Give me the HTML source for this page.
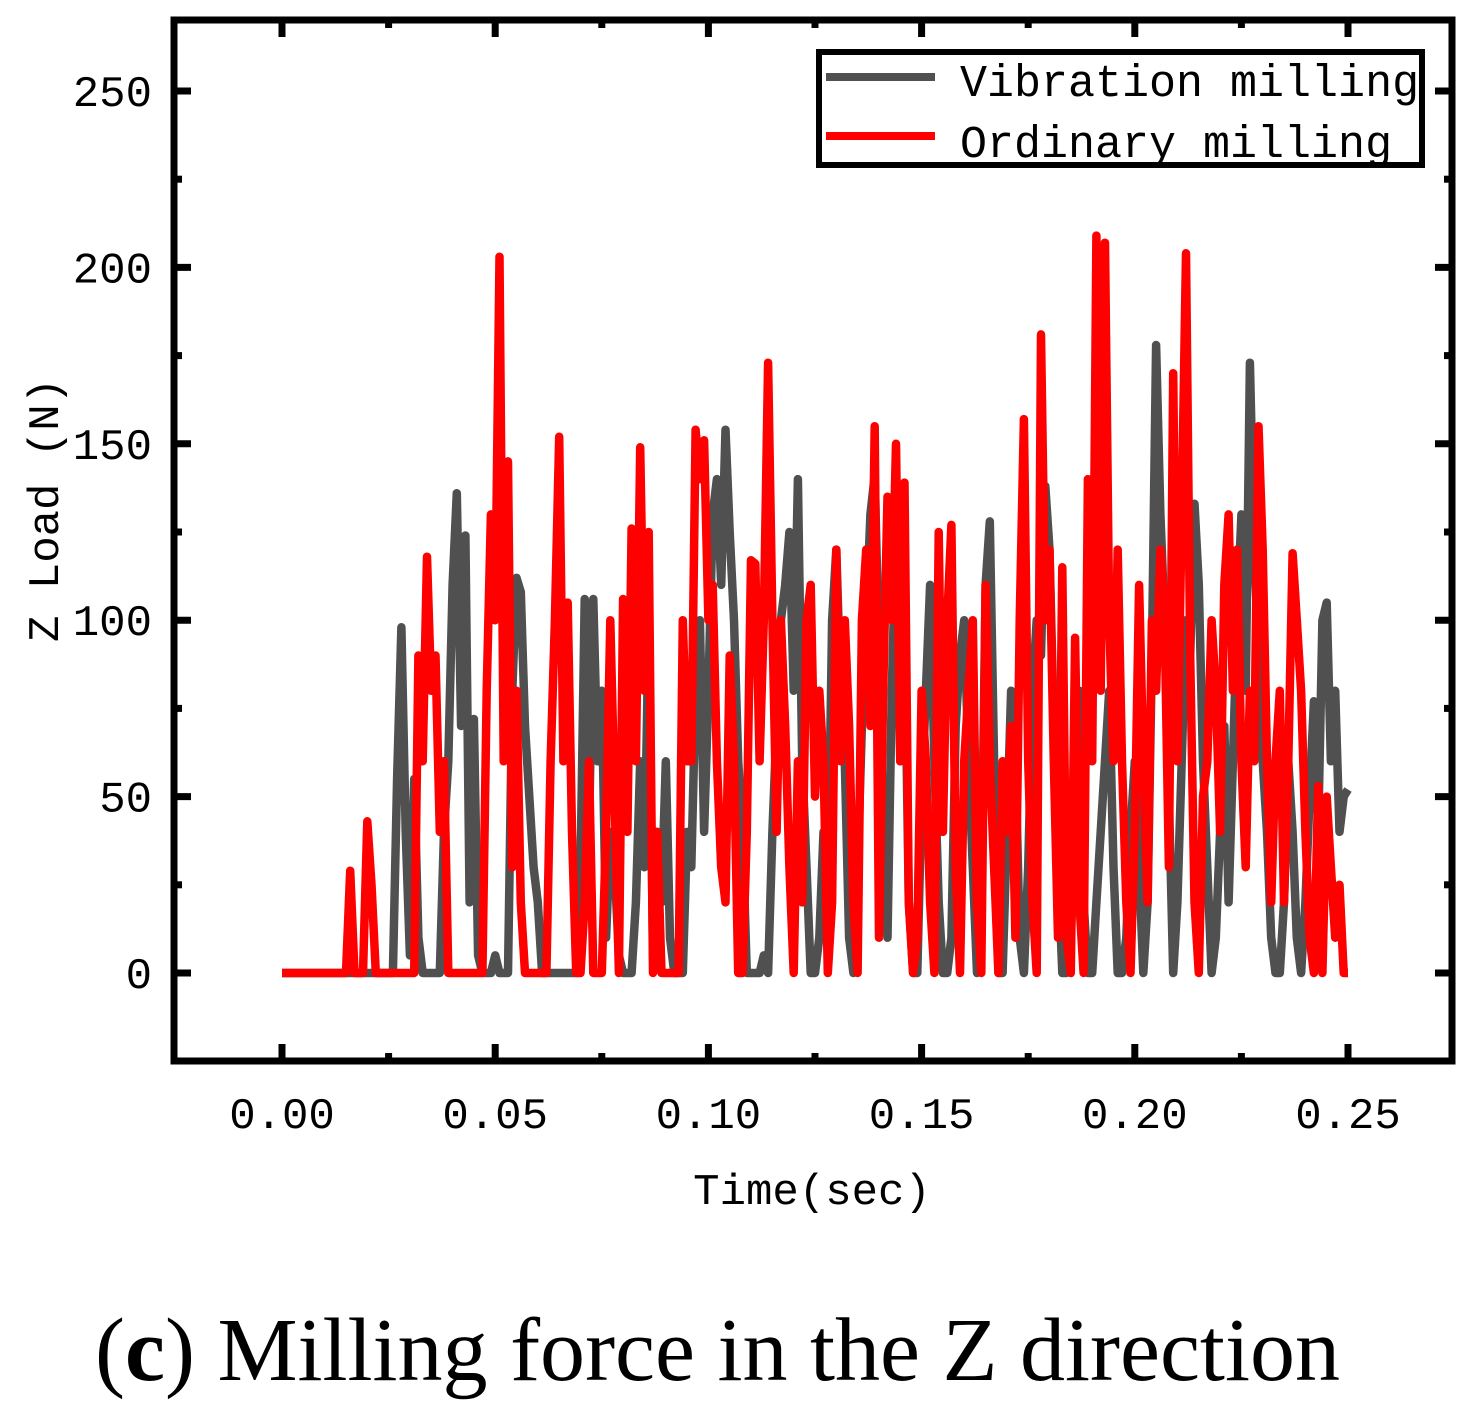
<!DOCTYPE html>
<html><head><meta charset="utf-8"><style>
html,body{margin:0;padding:0;background:#fff;}
svg{display:block;}
.mono{font-family:"Liberation Mono","Noto Sans CJK SC",monospace;}
</style></head><body>
<svg id="chart" width="1480" height="1419" viewBox="0 0 1480 1419" xmlns="http://www.w3.org/2000/svg">
<g id="plot"></g>
<g id="axes"></g>
<g>
<rect x="819" y="52" width="603" height="113" fill="#fff" stroke="#000" stroke-width="6"/>
<line x1="826" y1="77" x2="935" y2="77" stroke="#505050" stroke-width="8"/>
<text class="mono" x="960" y="96" font-size="45">Vibration milling</text>
<line x1="826" y1="136" x2="935" y2="136" stroke="#ff0000" stroke-width="8"/>
<text class="mono" x="960" y="157" font-size="45">Ordinary milling</text>
</g>
<text class="mono" x="812" y="1204" font-size="44" text-anchor="middle">Time(sec)</text>
<text class="mono" transform="translate(58,510) rotate(-90)" font-size="44" text-anchor="middle">Z Load (N)</text>
<text x="95" y="1380" font-family="Liberation Serif, serif" font-size="90" textLength="1245" lengthAdjust="spacingAndGlyphs">(<tspan font-weight="bold">c</tspan>) Milling force in the Z direction</text>
</svg>
<script>
const tStep = 0.001;
const vibration = [
0,0,0,0,0,0,0,0,0,0,
0,0,0,0,0,0,0,0,0,0,
0,0,0,0,0,0,0,55,98,40,
5,55,10,0,0,0,0,0,40,60,
110,136,70,124,20,72,5,0,0,0,
5,0,0,0,80,112,108,70,50,30,
20,0,0,0,0,0,0,0,0,0,
30,106,40,106,60,80,10,40,30,5,
0,0,0,20,60,30,100,5,40,20,
60,10,0,0,0,40,30,80,100,40,
80,130,140,110,154,125,100,60,40,0,
0,0,0,5,0,40,70,100,110,125,
80,140,60,30,0,0,10,40,20,100,
120,80,60,10,0,30,70,100,130,141,
90,40,10,80,125,60,100,20,0,0,
50,80,110,60,20,0,0,10,70,90,
100,60,30,0,20,110,128,60,0,0,
40,80,60,10,0,30,80,100,90,138,
120,70,30,0,0,10,40,80,20,0,
0,20,40,60,80,30,0,0,10,40,
60,30,0,20,90,178,130,100,50,0,
20,60,100,90,133,110,60,30,0,10,
40,70,20,60,100,130,80,173,120,90,
60,40,10,0,0,20,60,40,10,0,
20,50,77,40,100,105,60,80,40,50,
52];
const ordinary = [
0,0,0,0,0,0,0,0,0,0,
0,0,0,0,0,0,29,0,0,0,
43,25,0,0,0,0,0,0,0,0,
0,0,90,60,118,80,90,40,60,0,
0,0,0,0,0,0,0,0,80,130,
100,203,60,145,30,80,20,0,0,0,
0,0,0,60,100,152,60,105,40,0,
0,20,60,0,0,0,40,100,50,0,
106,40,126,60,149,80,125,0,40,0,
0,0,0,0,100,60,60,154,140,151,
100,110,60,30,20,90,60,0,0,40,
117,116,60,100,173,100,40,100,70,30,
0,60,20,100,110,50,80,60,0,20,
120,60,100,70,20,0,100,120,70,155,
10,80,135,100,150,60,139,20,0,10,
80,60,20,0,125,40,100,127,30,0,
60,80,100,20,0,110,60,30,0,60,
40,70,10,100,157,60,20,0,181,100,
120,60,10,115,10,0,95,20,0,140,
60,209,80,207,100,60,120,60,20,0,
40,110,60,20,100,80,120,100,30,170,
60,130,204,90,20,0,50,60,100,80,
40,110,130,80,120,60,30,80,60,155,
120,60,20,60,80,20,60,119,100,80,
40,10,0,53,0,50,30,10,25,0,
0];
const xTicks = [0,0.05,0.10,0.15,0.20,0.25];
const xTickLabels = ["0.00","0.05","0.10","0.15","0.20","0.25"];
const yTicks = [0,50,100,150,200,250];
const yTickLabels = ["0","50","100","150","200","250"];

const NS="http://www.w3.org/2000/svg";
const L=174,R=1452,T=20,B=1061;
const xs=t=>282+(t/0.25)*(1348-282);
const ys=v=>973-(v/250)*(973-91);
function mk(tag,attrs,parent){const e=document.createElementNS(NS,tag);for(const k in attrs)e.setAttribute(k,attrs[k]);parent.appendChild(e);return e;}
const plot=document.getElementById('plot'),axes=document.getElementById('axes');
function series(arr,color,name){
  const d=arr.map((v,i)=>(i?'L':'M')+xs(i*tStep).toFixed(1)+' '+ys(v).toFixed(1)).join(' ');
  const p=mk('path',{d:d,fill:'none',stroke:color,'stroke-width':8.5,'stroke-linejoin':'round'},plot);
  
  
}
series(vibration,'#505050','vibration-milling-line');
series(ordinary,'#ff0000','ordinary-milling-line');
const fr=mk('rect',{x:L,y:T,width:R-L,height:B-T,fill:'none',stroke:'#000','stroke-width':7},axes);


for(let k=0;k<=10;k++){
  const t=k*0.025, x=xs(t), len=k%2?8:17;
  mk('line',{x1:x,y1:B,x2:x,y2:B-len,stroke:'#000','stroke-width':7},axes);
  mk('line',{x1:x,y1:T,x2:x,y2:T+len,stroke:'#000','stroke-width':7},axes);
}
for(let v=-25;v<=275;v+=25){
  const y=ys(v); if(y<T+5||y>B-5)continue; const len=(v%50===0)?17:8;
  mk('line',{x1:L,y1:y,x2:L+len,y2:y,stroke:'#000','stroke-width':7},axes);
  mk('line',{x1:R,y1:y,x2:R-len,y2:y,stroke:'#000','stroke-width':7},axes);
}
xTicks.forEach((t,i)=>{
  const e=mk('text',{x:xs(t),y:1128,'font-size':44,'text-anchor':'middle',class:'mono'},axes);
  e.textContent=xTickLabels[i];
  
  
});
yTicks.forEach((v,i)=>{
  const e=mk('text',{x:152,y:ys(v)+15,'font-size':44,'text-anchor':'end',class:'mono'},axes);
  e.textContent=yTickLabels[i];
  
  
});
</script>
</body></html>
